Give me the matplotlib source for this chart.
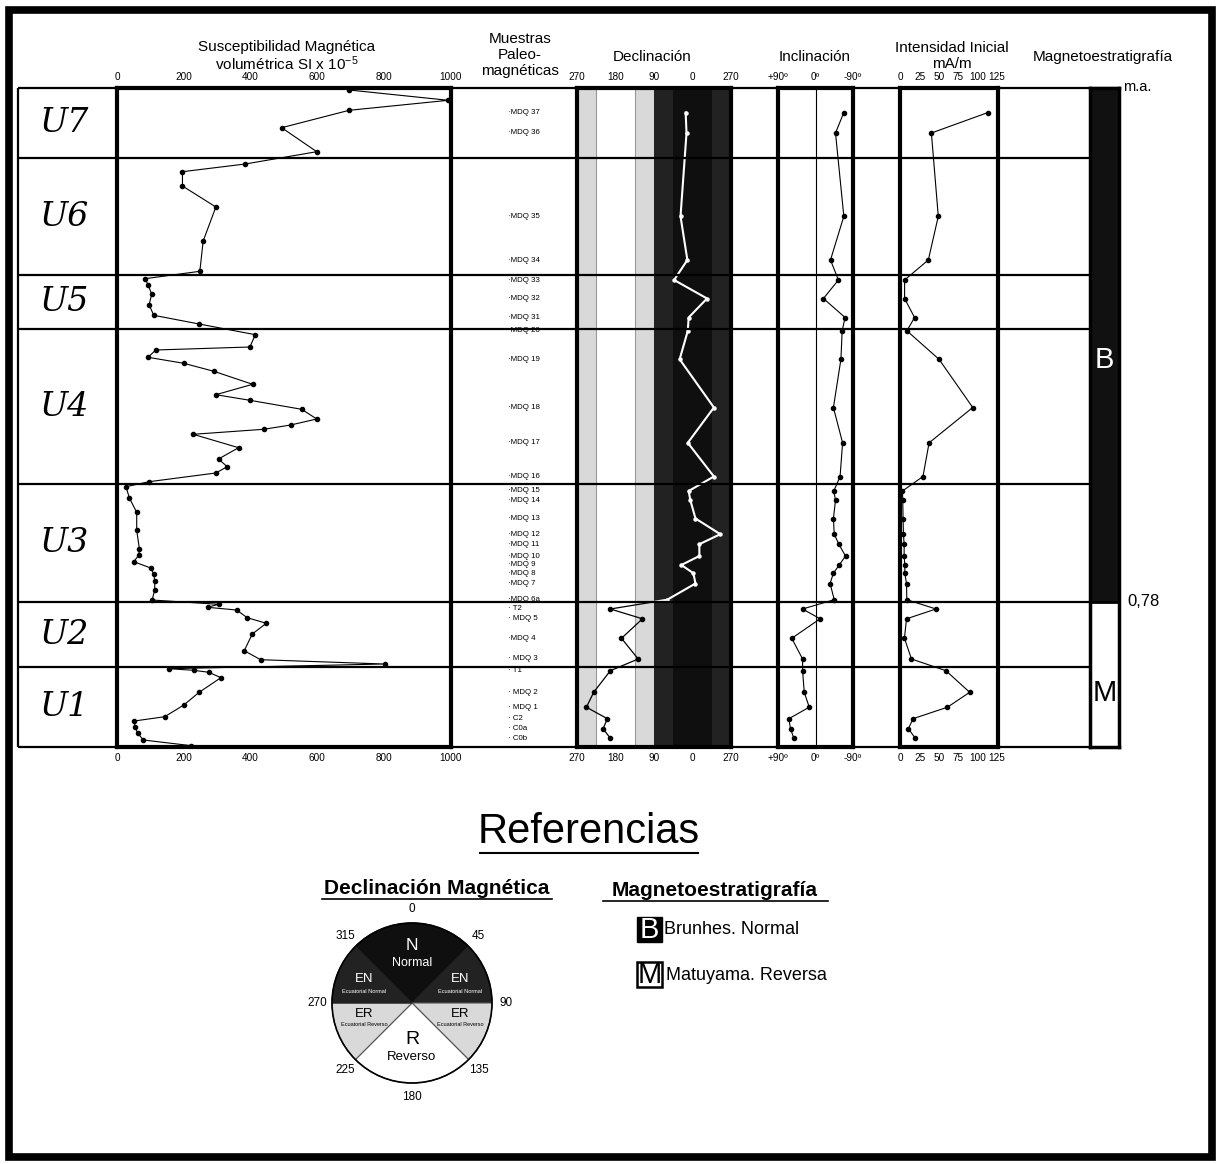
import numpy as np
import matplotlib
matplotlib.use('Agg')
import matplotlib.pyplot as plt
from matplotlib.patches import Rectangle, Circle
from matplotlib import font_manager

plt.rcParams['font.family'] = ['Liberation Sans', 'DejaVu Sans']
plt.rcParams['mathtext.default'] = 'regular'

# tick labels in a narrow face when there is one
nombres_fuentes = {f.name for f in font_manager.fontManager.ttflist}
fuente_ticks = 'Liberation Sans Narrow' if 'Liberation Sans Narrow' in nombres_fuentes else 'Liberation Sans'
tam_ticks = 8.5 if fuente_ticks == 'Liberation Sans Narrow' else 7.2

''' Datos '''
# limites de las capas (profundidad relativa, desde el techo)
limites_capas = [0, 70, 187, 241, 396, 514, 579, 659]
capas = ['U7', 'U6', 'U5', 'U4', 'U3', 'U2', 'U1']
limite_brunhes = 514   # 0,78 m.a.

# susceptibilidad magnetica volumetrica (SI x 10^-5)
prof_sus = [2, 12.3, 22.3, 39.7, 63.7, 76, 83.7, 98, 119, 153,
            183.3, 190.7, 196.7, 206.3, 216.7, 227.3, 236, 246.7, 259, 262,
            269.3, 275.3, 283.3, 296.3, 306.7, 312.3, 321.3, 331, 337, 341.3,
            346.3, 359.7, 371, 378.7, 385, 393.7, 398.7, 410, 424.3, 442.3,
            460.7, 467.3, 473.7, 480, 486, 493, 502, 512, 516.3, 519.3,
            522, 529.7, 535.3, 546, 562.7, 571.7, 576, 580.7, 582.3, 584.3,
            589.7, 604.3, 617, 628.7, 633, 639.3, 645.3, 652, 657.7]
sus = [695, 992, 695, 493, 598, 384, 196, 196, 296, 258,
       248, 84, 93, 104, 96, 110, 246, 414, 398, 116,
       93, 200, 290, 406, 296, 398, 553, 598, 520, 439,
       228, 364, 304, 330, 296, 96, 27, 37, 59, 59,
       67, 65, 50, 101, 110, 113, 113, 105, 304, 271,
       358, 390, 447, 405, 381, 430, 801, 155, 230, 275,
       311, 246, 200, 143, 52, 54, 62, 79, 223]

# muestras paleomagneticas
muestras = ['·MDQ 37', '·MDQ 36', '·MDQ 35', '·MDQ 34', '·MDQ 33', '·MDQ 32',
            '·MDQ 31', '·MDQ 20', '·MDQ 19', '·MDQ 18', '·MDQ 17', '·MDQ 16',
            '·MDQ 15', '·MDQ 14', '·MDQ 13', '·MDQ 12', '·MDQ 11', '·MDQ 10',
            '·MDQ 9', '·MDQ 8', '·MDQ 7', '·MDQ 6a', '· T2', '· MDQ 5',
            '·MDQ 4', '· MDQ 3', '· T1', '· MDQ 2', '· MDQ 1', '· C2',
            '· C0a', '· C0b']
prof_muestras = [24.5, 45, 128.3, 172, 192, 210.5, 229.5, 242.8, 271.3, 319.5,
                 354.8, 388.5, 403, 412.3, 430.5, 446.2, 456.2, 468, 477, 485.2,
                 495.5, 511.7, 521, 530.8, 550.3, 571, 582.7, 604.3, 619.2, 630.7,
                 640.7, 650.3]
declinacion = [16, 14, 28, 12, 43, 326, 9, 11, 30, 310,
               11, 310, 9, 5, 353, 295, 344, 344, 26, 358,
               353, 59, 192, 117, 166, 127, 192, 231, 248, 199,
               209, 192]
inclinacion = [-68, -48, -68, -36, -55, -19, -71, -64, -61, -43,
               -65, -59, -44, -48, -43, -45, -56, -72, -57, -43,
               -35, -45, 31, -11, 57, 31, 31, 27, 15, 64,
               60, 52]
intensidad = [114, 40, 49, 36, 5, 5, 18, 8, 50, 94,
              37, 29, 2.2, 2.6, 3, 3.5, 4.4, 4.4, 5.3, 5.3,
              7.5, 7.9, 46, 7.5, 4.8, 14, 59, 90, 61, 16,
              10, 19]

# zonas de declinacion (N, EN, ER, R)
zonas_dec = [(270, 225, '#d9d9d9'), (225, 135, 'white'), (135, 90, '#d9d9d9'),
             (90, 45, '#222222'), (45, -45, '#0f0f0f'), (-45, -90, '#222222')]
sectores = [90, 45, 45, 90, 45, 45]
colores_sect = ['#0f0f0f', '#222222', '#d9d9d9', 'white', '#d9d9d9', '#222222']

''' Figura '''
W, H = 1220, 1164
fig = plt.figure(figsize=(W / 100, H / 100), dpi=100)


def px_axes(x0, y0, x1, y1):
    return fig.add_axes([x0 / W, 1 - y1 / H, (x1 - x0) / W, (y1 - y0) / H])


bg = px_axes(0, 0, W, H)
bg.set_xlim(0, W); bg.set_ylim(H, 0); bg.axis('off')
bg.add_patch(Rectangle((9, 10), 1203, 1147, fill=False, lw=5.5, ec='black'))

# titulos de columnas
hdr = dict(fontsize=11, ha='center', va='center')
bg.text(287, 47, 'Susceptibilidad Magnética', **hdr)
bg.text(287, 64, 'volumétrica SI x 10$^{-5}$', **hdr)
bg.text(520, 55, 'Muestras\nPaleo-\nmagnéticas', linespacing=1.15, **hdr)
bg.text(652, 57, 'Declinación', **hdr)
bg.text(815, 57, 'Inclinación', **hdr)
bg.text(952, 56, 'Intensidad Inicial\nmA/m', linespacing=1.12, **hdr)
bg.text(1103, 57, 'Magnetoestratigrafía', **hdr)
bg.text(1123, 87, 'm.a.', fontsize=10.5, ha='left', va='center')
bg.text(1127, 602, '0,78', fontsize=12, ha='left', va='center')


def panel(x0, x1, xlim, ticks, labels):
    ax = px_axes(x0, 88, x1, 747)
    ax.set_xlim(*xlim); ax.set_ylim(659, 0)
    ax.set_xticks(ticks); ax.set_xticklabels(labels, family=fuente_ticks)
    ax.set_yticks([])
    ax.tick_params(axis='x', top=True, labeltop=True, bottom=True, labelbottom=True,
                   length=0, pad=4, labelsize=tam_ticks)
    for s in ax.spines.values():
        s.set_linewidth(3)
    return ax


# susceptibilidad
ax_s = panel(117, 451, (0, 1000), [0, 200, 400, 600, 800, 1000],
             ['0', '200', '400', '600', '800', '1000'])
ax_s.plot(sus, prof_sus, 'k-', lw=0.8, marker='o', ms=3)

# muestras
ax_m = px_axes(490, 88, 575, 747)
ax_m.set_xlim(490, 575); ax_m.set_ylim(659, 0); ax_m.axis('off')
for nom, p in zip(muestras, prof_muestras):
    ax_m.text(508, p, nom, fontsize=5.7, ha='left', va='center')

# declinacion
ax_d = panel(577, 731, (270, -90), [270, 180, 90, 0, -90], ['270', '180', '90', '0', '270'])
for a, b, c in zonas_dec:
    ax_d.axvspan(a, b, color=c, lw=0)
ax_d.axvline(225, color='#999999', lw=0.8)
ax_d.axvline(135, color='#999999', lw=0.8)
dec = np.array(declinacion, dtype=float)
dec_x = np.where(dec > 270, dec - 360, dec)
prof = np.array(prof_muestras)
l1, = ax_d.plot(dec_x, prof, color='white', lw=1.5)
l1.set_clip_path(Rectangle((-90, 0), 180, 659, transform=ax_d.transData))
l2, = ax_d.plot(dec_x, prof, color='black', lw=0.9)
l2.set_clip_path(Rectangle((90, 0), 180, 659, transform=ax_d.transData))
normal = dec_x < 90
ax_d.plot(dec_x[normal], prof[normal], 'o', color='white', ms=2.2)
ax_d.plot(dec_x[~normal], prof[~normal], 'o', color='black', ms=3)

# inclinacion
ax_i = panel(778, 853, (90, -90), [90, 0, -90], ['+90º', '0º', '-90º'])
ax_i.axvline(0, color='black', lw=0.8)
ax_i.plot(inclinacion, prof, 'k-', lw=0.8, marker='o', ms=3)

# intensidad
ax_n = panel(900, 998, (-1, 127), [0, 25, 50, 75, 100, 125],
             ['0', '25', '50', '75', '100', '125'])
ax_n.plot(intensidad, prof, 'k-', lw=0.8, marker='o', ms=3)

# magnetoestratigrafia
ax_b = px_axes(1090, 88, 1119, 747)
ax_b.set_xlim(0, 1); ax_b.set_ylim(659, 0)
ax_b.set_xticks([]); ax_b.set_yticks([])
ax_b.axhspan(0, limite_brunhes, color='#111111', lw=0)
ax_b.axhline(limite_brunhes, color='black', lw=2)
for s in ax_b.spines.values():
    s.set_linewidth(2.5)
ax_b.text(0.5, 272, 'B', color='white', fontsize=21, ha='center', va='center')
ax_b.text(0.5, 605, 'M', color='black', fontsize=21, ha='center', va='center')

# capas
lay = px_axes(18, 88, 1120, 747)
lay.set_xlim(18, 1120); lay.set_ylim(659, 0)
lay.axis('off'); lay.set_zorder(5)
lay.hlines(limites_capas[1:], 18, 1090, color='black', lw=1.6, clip_on=False)
lay.hlines(limites_capas[0], 18, 1120, color='black', lw=1.6, clip_on=False)
lay.vlines(18, 0, 659, color='black', lw=1.6, clip_on=False)
for nombre, a, b in zip(capas, limites_capas[:-1], limites_capas[1:]):
    lay.text(65, (a + b) / 2, nombre, fontsize=24, style='italic',
             family='DejaVu Serif', ha='center', va='center')

''' Referencias '''
bg.text(589, 832, 'Referencias', fontsize=30, ha='center', va='center')
bg.plot([480, 698], [853, 853], 'k-', lw=1.5)
bg.text(437, 889, 'Declinación Magnética', fontsize=15, weight='bold', ha='center', va='center')
bg.plot([322, 552], [899, 899], 'k-', lw=1.2)
bg.text(715, 891, 'Magnetoestratigrafía', fontsize=15, weight='bold', ha='center', va='center')
bg.plot([603, 828], [901, 901], 'k-', lw=1.2)

bg.add_patch(Rectangle((637, 917), 25, 25, color='black'))
bg.text(649.5, 930, 'B', color='white', fontsize=21, ha='center', va='center')
bg.text(664, 930, 'Brunhes. Normal', fontsize=13, ha='left', va='center')
bg.add_patch(Rectangle((637, 962), 25, 25, fc='white', ec='black', lw=1.8))
bg.text(649.5, 975, 'M', color='black', fontsize=21, ha='center', va='center')
bg.text(666, 975, 'Matuyama. Reversa', fontsize=13, ha='left', va='center')

ax_c = px_axes(412 - 110, 1003 - 110, 412 + 110, 1003 + 110)
cunas, _ = ax_c.pie(sectores, colors=colores_sect, startangle=135, counterclock=False, radius=1,
                    wedgeprops=dict(edgecolor='#555555', linewidth=0.8))
for i in (0, 1, 5):
    cunas[i].set_edgecolor(colores_sect[i])
ax_c.add_patch(Circle((0, 0), 1, fill=False, ec='black', lw=1.2))
ax_c.set_xlim(-1.375, 1.375); ax_c.set_ylim(-1.375, 1.375); ax_c.axis('off')
for ang in range(0, 360, 45):
    t = np.deg2rad(90 - ang)
    ax_c.text(1.18 * np.cos(t), 1.18 * np.sin(t), str(ang), fontsize=8.5, ha='center', va='center')
ax_c.text(0, 0.72, 'N', color='white', fontsize=12.5, ha='center', va='center')
ax_c.text(0, 0.5, 'Normal', color='white', fontsize=9, ha='center', va='center')
for sx in (-1, 1):
    ax_c.text(sx * 0.6, 0.3, 'EN', color='white', fontsize=9.5, ha='center', va='center')
    ax_c.text(sx * 0.6, 0.14, 'Ecuatorial Normal', color='white', fontsize=4, ha='center', va='center')
    ax_c.text(sx * 0.6, -0.14, 'ER', color='black', fontsize=9.5, ha='center', va='center')
    ax_c.text(sx * 0.6, -0.27, 'Ecuatorial Reverso', color='black', fontsize=4, ha='center', va='center')
ax_c.text(0, -0.45, 'R', color='black', fontsize=14, ha='center', va='center')
ax_c.text(0, -0.68, 'Reverso', color='black', fontsize=9.5, ha='center', va='center')

fig.savefig('out.png', dpi=100)
